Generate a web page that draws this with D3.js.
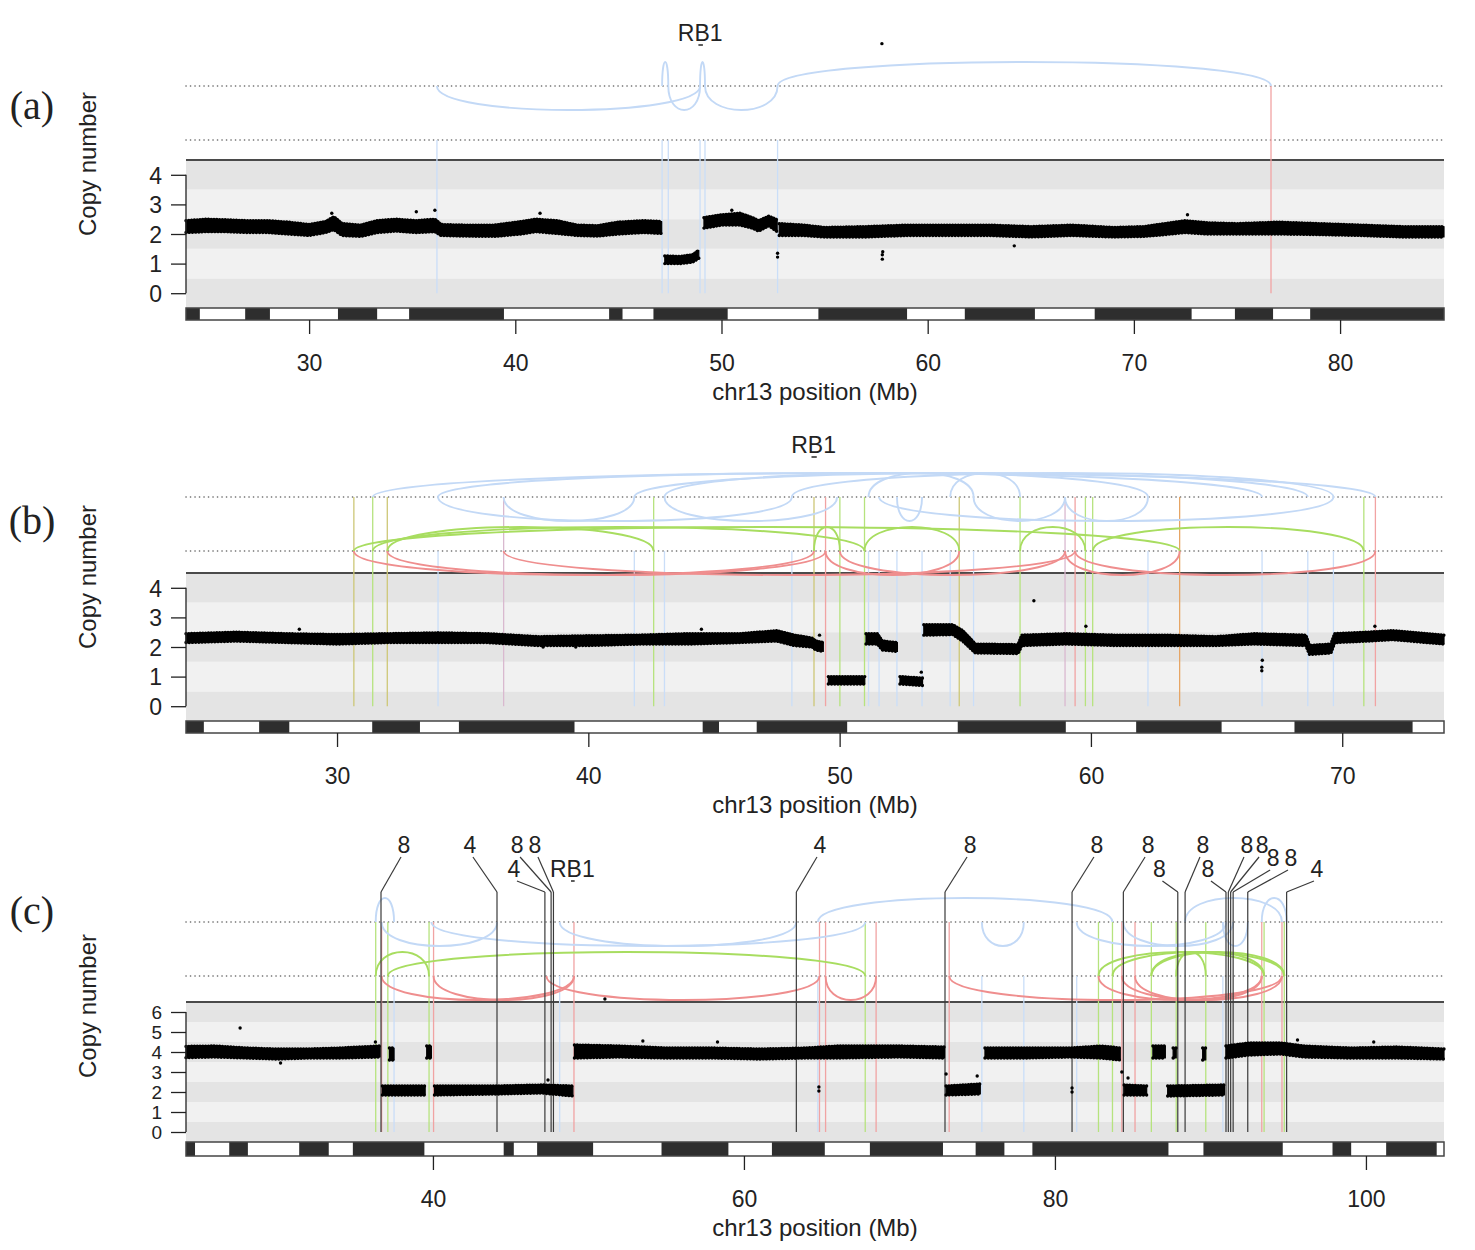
<!DOCTYPE html>
<html>
<head>
<meta charset="utf-8">
<script src="https://cdn.jsdelivr.net/npm/d3@7"></script>
<style>
  body { margin: 0; background: #fff; }
  svg text { font-family: "Liberation Sans", Arial, Helvetica, sans-serif; fill: #222; }
</style>
</head>
<body>
<svg id="chart" width="1475" height="1250"></svg>
<script>
// ---- shared data -------------------------------------------------------
// dark cytobands of chr13 (Mb); the gaps between them are drawn white
const cytoDark = [[19.0,24.7],[26.9,28.1],[31.4,33.3],[34.85,39.45],[44.55,45.2],[46.7,50.3],
  [54.7,59.0],[61.8,65.2],[68.1,72.8],[74.9,76.75],[78.55,87.3],[89.55,94.65],[97.85,99.05],[101.3,104.55]];
const rb1 = { name: 'RB1', start: 48.88, end: 49.05 };

// ---- panel (a) ----------------------------------------------------------
const ticksA = [30, 40, 50, 60, 70, 80];
// copy-number band: [Mb, low CN, high CN]
const cnA = [
  [[24.03,2.05,2.45],[25,2.08,2.5],[26,2.08,2.48],[27,2.05,2.45],[28,2.05,2.45],[29,2.0,2.4],[30,1.95,2.32],[30.8,2.05,2.42],
   [31.2,2.15,2.58],[31.6,1.95,2.35],[32.5,1.92,2.3],[33.3,2.05,2.45],[34.2,2.1,2.5],[35.2,2.05,2.45],[36.1,2.08,2.5],[36.4,1.95,2.32],
   [37.5,1.93,2.3],[39,1.92,2.3],[40.3,2.0,2.42],[41,2.08,2.5],[42,2.02,2.45],[43,1.95,2.3],[44,1.93,2.28],[45,2.0,2.4],[46.2,2.05,2.45],[47.1,2.02,2.42]],
  [[47.25,1.0,1.26],[48,1.0,1.24],[48.6,1.05,1.3],[48.9,1.18,1.45]],
  [[49.15,2.2,2.55],[50,2.3,2.65],[50.9,2.3,2.7],[51.5,2.2,2.55],[51.8,2.1,2.45],[52.3,2.28,2.6],[52.7,2.08,2.48]],
  [[52.8,1.95,2.35],[54,1.95,2.3],[55,1.9,2.22],[57,1.9,2.25],[59,1.95,2.3],[61,1.95,2.3],[63,1.95,2.3],[65,1.9,2.25],[67,1.95,2.3],
   [69,1.9,2.22],[70.5,1.92,2.25],[71.5,1.98,2.35],[72.5,2.05,2.45],[73.5,2.0,2.38],[75,2.0,2.35],[77,2.0,2.4],[79,1.98,2.35],[81,1.95,2.3],[83,1.9,2.25],[85.04,1.9,2.25]]
];
const outA = [[57.78,8.43],[52.72,1.22],[52.72,1.35],[57.8,1.15],[57.8,1.3],[57.82,1.4],[64.2,1.6],[35.2,2.75],[36.1,2.8],[31.1,2.7],[41.2,2.7],[72.6,2.65],[50.5,2.8]];
const breaksA = [[36.2,'del'],[47.12,'del'],[47.42,'del'],[48.96,'del'],[49.2,'del'],[52.72,'del'],[76.65,'dup']];
const delUpA = [[47.12,47.42],[48.96,49.2],[52.72,76.65]];
const delDownA = [[36.2,48.96],[47.42,48.96],[49.2,52.72]];
const invA = [];
const dupA = [];

// ---- panel (b) ----------------------------------------------------------
const ticksB = [30, 40, 50, 60, 70];
const cnB = [
  [[23.99,2.15,2.45],[26,2.2,2.5],[28,2.15,2.45],[30,2.1,2.42],[32,2.15,2.45],[34,2.15,2.48],[36,2.15,2.45],[38,2.05,2.35],[40,2.05,2.38],
   [42,2.1,2.4],[44,2.1,2.45],[46,2.15,2.45],[47.5,2.2,2.55],[48.2,2.05,2.4],[48.9,2.0,2.3],[49.05,1.9,2.2],[49.35,1.85,2.15]],
  [[49.55,0.75,1.0],[51.0,0.75,1.0]],
  [[51.05,2.1,2.45],[51.5,2.1,2.45],[51.7,1.9,2.2],[52.3,1.85,2.15]],
  [[52.4,0.75,1.0],[53.3,0.7,0.95]],
  [[53.35,2.4,2.75],[54.5,2.42,2.75],[54.9,2.2,2.55],[55.4,1.8,2.1],[57.1,1.78,2.08],[57.25,2.05,2.4],[59,2.1,2.45],[61,2.05,2.4],[63,2.05,2.4],
   [65,2.05,2.35],[66.5,2.1,2.45],[68.55,2.05,2.4],[68.7,1.75,2.05],[69.55,1.8,2.1],[69.7,2.15,2.45],[71,2.2,2.5],[72,2.25,2.55],[74.05,2.1,2.4]]
];
const outB = [[57.73,3.56],[66.8,1.2],[66.8,1.32],[66.82,1.55],[53.25,1.15],[49.2,2.4],[38.2,2.0],[39.5,2.0],[59.8,2.7],[28.5,2.6],[44.5,2.6],[71.3,2.7]];
const breaksB = [[30.67,'inv_dup'],[31.42,'inv'],[32.0,'inv_dup'],[34.02,'del'],[36.63,'del_dup'],[41.83,'del'],[42.6,'inv'],[43.03,'del'],
  [48.1,'del'],[48.98,'inv_dup'],[49.44,'dup'],[50.01,'inv'],[50.99,'inv'],[51.15,'del'],[51.57,'del'],[52.28,'del'],[53.28,'del'],[54.4,'del'],
  [54.76,'inv_dup'],[55.33,'del'],[57.18,'inv'],[58.97,'del_dup'],[59.37,'dup'],[59.78,'inv'],[60.07,'inv'],[62.27,'del'],[63.53,'dup_inv'],
  [66.81,'del'],[68.63,'del'],[69.65,'del'],[70.86,'inv'],[71.32,'dup']];
const delUpB = [[31.42,71.32],[34.02,66.81],[41.83,68.63],[48.1,69.65],[43.03,62.27],[54.4,57.18],[51.15,55.33]];
const delDownB = [[34.02,48.1],[36.63,41.83],[43.03,49.9],[51.57,69.65],[55.33,58.97],[58.97,62.27],[52.28,53.28]];
const invB = [[30.67,63.53],[31.42,50.99],[32.0,42.6],[48.98,50.01],[50.99,54.76],[57.18,59.78],[60.07,70.86]];
const dupB = [[30.67,48.98],[32.0,49.44],[36.63,59.37],[49.44,54.76],[50.01,58.97],[58.97,63.53],[59.37,71.32]];

// ---- panel (c) ----------------------------------------------------------
const ticksC = [40, 60, 80, 100];
const cnC = [
  [[24.12,3.72,4.28],[26,3.75,4.3],[28,3.7,4.2],[30,3.65,4.15],[32,3.7,4.15],[34,3.7,4.2],[36.6,3.75,4.3]],
  [[37.2,3.6,4.2],[37.5,3.6,4.2]],
  [[39.6,3.7,4.3],[39.9,3.7,4.3]],
  [[36.75,1.85,2.3],[39.5,1.85,2.3]],
  [[40.1,1.85,2.3],[44,1.9,2.3],[47,1.95,2.35],[49.0,1.8,2.3]],
  [[49.1,3.7,4.35],[52,3.75,4.3],[55,3.7,4.2],[58,3.7,4.2],[61,3.65,4.15],[64,3.7,4.2],[66,3.7,4.3],[70,3.75,4.3],[72.9,3.7,4.25]],
  [[73.0,1.85,2.3],[75.2,1.9,2.4]],
  [[75.5,3.7,4.2],[78,3.7,4.2],[81,3.75,4.2],[83,3.7,4.3],[84.2,3.6,4.2]],
  [[84.45,1.85,2.35],[85.9,1.85,2.3]],
  [[86.3,3.7,4.3],[87.1,3.7,4.3]],
  [[87.25,1.8,2.3],[90.9,1.85,2.35]],
  [[87.6,3.7,4.2],[87.8,3.7,4.2]],
  [[89.5,3.6,4.2],[89.7,3.6,4.2]],
  [[91.0,3.7,4.3],[92.5,3.85,4.45],[94.5,3.9,4.45],[96,3.75,4.3],[99,3.7,4.2],[102,3.7,4.25],[105.02,3.65,4.15]]
];
const outC = [[51.06,6.65],[27.6,5.2],[64.82,2.05],[64.82,2.25],[81.1,2.0],[81.1,2.2],[73.0,2.9],[75.0,2.8],[47.4,2.6],[84.3,3.0],[84.7,2.7],
  [36.3,4.5],[53.5,4.55],[58.3,4.5],[95.6,4.6],[100.5,4.5],[30.2,3.45]];
const breaksC = [[36.32,'inv'],[36.7,'dup'],[37.1,'inv'],[37.5,'del'],[39.75,'inv'],[40.04,'dup'],[48.15,'del'],[49.07,'dup'],
  [64.75,'del'],[64.86,'dup'],[65.25,'dup'],[67.8,'inv'],[68.5,'dup'],[73.2,'dup'],[75.3,'del'],[78.0,'del'],[81.4,'del'],[82.8,'inv'],
  [83.7,'inv'],[84.3,'dup'],[85.15,'dup'],[86.2,'inv'],[87.8,'inv'],[89.7,'inv'],[90.8,'del'],[93.3,'dup'],[93.45,'inv'],[94.6,'dup'],[94.75,'inv']];
// labelled breakpoints: [Mb, label, label position (Mb), label row]
const annC = [[36.66,'8',38.14,0],[44.12,'4',42.38,0],[47.2,'4',45.21,2],[47.6,'8',45.41,0],[47.75,'8',46.56,0],[63.37,'4',64.89,0],
  [72.93,'8',74.54,0],[81.1,'8',82.7,0],[84.4,'8',85.99,0],[87.9,'8',86.72,2],[88.37,'8',89.52,0],[91.0,'8',89.84,2],[91.15,'8',92.35,0],
  [91.3,'8',93.32,0],[91.46,'8',94.03,1],[92.4,'8',95.18,1],[94.9,'4',96.85,2]];
const delUpC = [[36.32,37.5],[64.75,83.7],[88.37,94.6],[93.3,94.9]];
const delDownC = [[36.7,44.12],[39.9,67.8],[48.15,63.37],[75.3,78.0],[81.4,91.0],[84.4,91.46],[90.8,92.4]];
const invC = [[36.32,39.75],[37.1,67.8],[82.8,93.45],[83.7,94.75],[86.2,93.45],[87.8,89.7],[86.2,94.75]];
const dupC = [[36.7,49.07],[40.04,49.07],[47.3,64.86],[65.25,68.5],[73.2,94.6],[82.8,93.3],[84.3,94.6],[85.15,93.3]];

// ---- styles / layout ----------------------------------------------------
const lineColor = { del: '#cadef8', dup: '#f1a3a3', inv: '#b6e37e', inv_dup: '#cdc777', del_dup: '#d9b9cf', dup_inv: '#e6a565' };
const arcColor = { del: '#c3d9f6', inv: '#a8dd60', dup: '#ef8e8e' };
const X_LEFT = 186, X_RIGHT = 1444;
const ARC_CTRL = 32;   // bezier control offset -> arcs ~24px tall
const FS = 23;

const panels = [
  { tag: '(a)', tagY: 105, dom: [24.03, 85.04], ticks: ticksA, cn: cnA, out: outA, breaks: breaksA, delUp: delUpA, delDown: delDownA,
    inv: invA, dup: dupA, ann: [], dotTop: 86, dotBot: 140, plotTop: 160, plotBot: 308, cnMax: 4, ideoH: 12, rb1Y: 33, yFs: FS },
  { tag: '(b)', tagY: 520, dom: [23.99, 74.05], ticks: ticksB, cn: cnB, out: outB, breaks: breaksB, delUp: delUpB, delDown: delDownB,
    inv: invB, dup: dupB, ann: [], dotTop: 497, dotBot: 551, plotTop: 573, plotBot: 721, cnMax: 4, ideoH: 12, rb1Y: 445, yFs: FS },
  { tag: '(c)', tagY: 910, dom: [24.12, 105.02], ticks: ticksC, cn: cnC, out: outC, breaks: breaksC, delUp: delUpC, delDown: delDownC,
    inv: invC, dup: dupC, ann: annC, annRows: [845, 858, 869], annTop: 892, dotTop: 922, dotBot: 976, plotTop: 1002, plotBot: 1142,
    cnMax: 6, ideoH: 14, rb1Y: 869, yFs: 19 }
];

const svg = d3.select('#chart');

function arcPath(x1, x2, y0, dir) {
  const c = y0 - dir * ARC_CTRL;
  return `M${x1},${y0}C${x1},${c} ${x2},${c} ${x2},${y0}`;
}

panels.forEach(p => {
  const g = svg.append('g');
  const x = d3.scaleLinear().domain(p.dom).range([X_LEFT, X_RIGHT]);
  const y = d3.scaleLinear().domain([-0.5, p.cnMax + 0.5]).range([p.plotBot, p.plotTop]);

  // background bands (alternating per copy-number step)
  g.selectAll('rect.band').data(d3.range(0, p.cnMax + 1)).enter().append('rect')
    .attr('x', X_LEFT).attr('width', X_RIGHT - X_LEFT)
    .attr('y', d => y(d + 0.5)).attr('height', d => y(d - 0.5) - y(d + 0.5))
    .attr('fill', d => d % 2 === 0 ? '#e4e4e4' : '#f1f1f1');
  g.append('line').attr('x1', X_LEFT).attr('x2', X_RIGHT).attr('y1', p.plotTop).attr('y2', p.plotTop)
    .attr('stroke', '#4a4a4a').attr('stroke-width', 2);

  // dotted guide lines
  [p.dotTop, p.dotBot].forEach(yy => {
    g.append('line').attr('x1', X_LEFT).attr('x2', X_RIGHT).attr('y1', yy).attr('y2', yy)
      .attr('stroke', '#666').attr('stroke-width', 1.6).attr('stroke-linecap', 'round')
      .attr('stroke-dasharray', '0.1,4.4');
  });

  // breakpoint verticals
  g.selectAll('line.bp').data(p.breaks).enter().append('line')
    .attr('x1', d => x(d[0])).attr('x2', d => x(d[0]))
    .attr('y1', d => d[1] === 'del' ? p.dotBot : p.dotTop).attr('y2', y(0))
    .attr('stroke', d => lineColor[d[1]]).attr('stroke-width', 1.3);

  // arcs
  const arcs = [
    ...p.delUp.map(d => ({ d, t: 'del', y0: p.dotTop, dir: 1 })),
    ...p.delDown.map(d => ({ d, t: 'del', y0: p.dotTop, dir: -1 })),
    ...p.inv.map(d => ({ d, t: 'inv', y0: p.dotBot, dir: 1 })),
    ...p.dup.map(d => ({ d, t: 'dup', y0: p.dotBot, dir: -1 }))
  ];
  g.selectAll('path.arc').data(arcs).enter().append('path')
    .attr('d', a => arcPath(x(a.d[0]), x(a.d[1]), a.y0, a.dir))
    .attr('fill', 'none').attr('stroke', a => arcColor[a.t]).attr('stroke-width', 1.9);

  // labelled breakpoints (panel c)
  const ann = g.selectAll('g.ann').data(p.ann).enter().append('g');
  ann.append('line')
    .attr('x1', d => x(d[0])).attr('x2', d => x(d[0]))
    .attr('y1', p.annTop).attr('y2', y(0))
    .attr('stroke', '#3a3a3a').attr('stroke-width', 1.2);
  ann.append('line')
    .attr('x1', d => x(d[0])).attr('y1', p.annTop)
    .attr('x2', d => x(d[2]) + (d[0] > d[2] ? 3 : -3)).attr('y2', d => p.annRows[d[3]] + 12)
    .attr('stroke', '#3a3a3a').attr('stroke-width', 1.2);
  ann.append('text')
    .attr('x', d => x(d[2])).attr('y', d => p.annRows[d[3]])
    .attr('text-anchor', 'middle').attr('dominant-baseline', 'central')
    .style('font-size', FS + 'px').text(d => d[1]);

  // copy-number band, with beaded edges so it reads as a dense point cloud
  const area = d3.area().x(d => x(d[0])).y0(d => y(d[1])).y1(d => y(d[2]));
  const cn = g.selectAll('g.cn').data(p.cn).enter().append('g');
  cn.append('path').attr('d', area).attr('fill', '#000').attr('stroke', '#000').attr('stroke-width', 1.2)
    .attr('stroke-linejoin', 'round');
  [1, 2].forEach(k => {
    cn.append('path')
      .attr('d', s => d3.line().x(d => x(d[0])).y(d => y(d[k]))(s))
      .attr('fill', 'none').attr('stroke', '#000').attr('stroke-width', 3.4)
      .attr('stroke-linecap', 'round').attr('stroke-dasharray', k === 1 ? '0.1,3.1' : '0.1,2.7');
  });
  g.selectAll('circle.out').data(p.out).enter().append('circle')
    .attr('cx', d => x(d[0])).attr('cy', d => y(d[1])).attr('r', 1.7).attr('fill', '#000');

  // RB1 gene label
  g.append('text').attr('x', x((rb1.start + rb1.end) / 2)).attr('y', p.rb1Y)
    .attr('text-anchor', 'middle').attr('dominant-baseline', 'central')
    .style('font-size', FS + 'px').text(rb1.name);
  g.append('line').attr('x1', x(rb1.start)).attr('x2', x(rb1.end) + 1)
    .attr('y1', p.rb1Y + 12).attr('y2', p.rb1Y + 12).attr('stroke', '#333').attr('stroke-width', 1.6);

  // ideogram
  const ideoTop = p.plotBot, ideoBot = p.plotBot + p.ideoH;
  g.append('rect').attr('x', X_LEFT).attr('y', ideoTop).attr('width', X_RIGHT - X_LEFT).attr('height', p.ideoH).attr('fill', '#fff');
  g.selectAll('rect.cyto').data(cytoDark.filter(b => b[1] > p.dom[0] && b[0] < p.dom[1])).enter().append('rect')
    .attr('x', b => x(Math.max(b[0], p.dom[0]))).attr('y', ideoTop)
    .attr('width', b => x(Math.min(b[1], p.dom[1])) - x(Math.max(b[0], p.dom[0])))
    .attr('height', p.ideoH).attr('fill', '#2e2e2e');
  g.append('rect').attr('x', X_LEFT).attr('y', ideoTop).attr('width', X_RIGHT - X_LEFT).attr('height', p.ideoH)
    .attr('fill', 'none').attr('stroke', '#444').attr('stroke-width', 1.5);

  // y axis
  const yAx = g.append('g').attr('transform', `translate(${X_LEFT},0)`)
    .call(d3.axisLeft(y).tickValues(d3.range(0, p.cnMax + 1)).tickSize(15).tickFormat(d3.format('d')));
  yAx.select('.domain').remove();
  yAx.selectAll('line').attr('stroke', '#222').attr('stroke-width', 1.3);
  yAx.selectAll('text').attr('x', -24).attr('dy', '0.36em').style('font-size', p.yFs + 'px').attr('fill', '#222');
  g.append('line').attr('x1', X_LEFT).attr('x2', X_LEFT).attr('y1', y(0)).attr('y2', y(p.cnMax))
    .attr('stroke', '#222').attr('stroke-width', 1.3);

  // x axis under the ideogram
  const xAx = g.append('g').attr('transform', `translate(0,${ideoBot})`)
    .call(d3.axisBottom(x).tickValues(p.ticks).tickSize(14));
  xAx.select('.domain').remove();
  xAx.selectAll('line').attr('stroke', '#222').attr('stroke-width', 1.3);
  xAx.selectAll('text').attr('y', 43).attr('dy', '0.36em').style('font-size', FS + 'px').attr('fill', '#222');

  g.append('text').attr('x', 815).attr('y', ideoBot + 71)
    .attr('text-anchor', 'middle').attr('dominant-baseline', 'central')
    .style('font-size', '24px').text('chr13 position (Mb)');
  g.append('text').attr('transform', `translate(87,${p.plotTop + 4}) rotate(-90)`)
    .attr('text-anchor', 'middle').attr('dominant-baseline', 'central')
    .style('font-size', '24px').text('Copy number');
  g.append('text').attr('x', 32).attr('y', p.tagY)
    .attr('text-anchor', 'middle').attr('dominant-baseline', 'central')
    .style('font-family', '"Liberation Serif", "DejaVu Serif", serif').style('font-size', '40px').text(p.tag);
});
</script>
</body>
</html>
